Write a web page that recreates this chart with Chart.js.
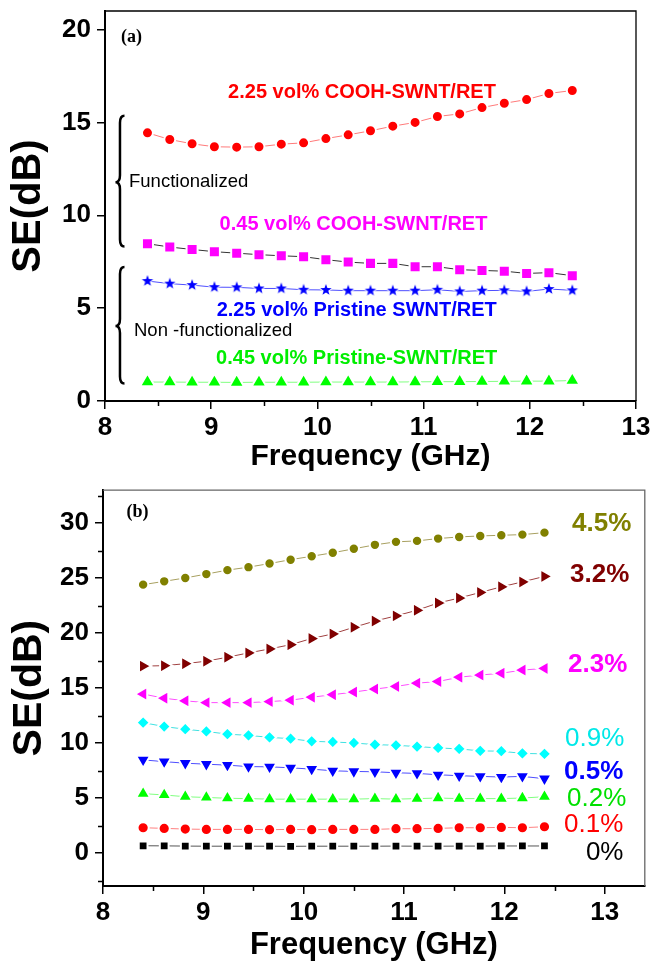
<!DOCTYPE html>
<html lang="en">
<head>
<meta charset="UTF-8" />
<title>Shielding effectiveness vs frequency</title>
<script src="https://cdn.jsdelivr.net/npm/chart.js"></script>
<style>
  body { margin: 0; background: #fff; }
  #wrap { position: relative; width: 655px; height: 964px; }
  canvas { position: absolute; left: 0; }
  #chartA { top: 0; }
  #chartB { top: 480px; }
</style>
</head>
<body>
<div id="wrap">
  <canvas id="chartA" width="655" height="480"></canvas>
  <canvas id="chartB" width="655" height="484"></canvas>
</div>
<script>
// frequency points (GHz), same for both panels
const freq = [8.40, 8.61, 8.82, 9.03, 9.24, 9.45, 9.66, 9.87, 10.08, 10.29,
              10.50, 10.71, 10.92, 11.13, 11.34, 11.55, 11.76, 11.97, 12.18, 12.40];

// panel (a) - SE (dB)
const cooh225 = [14.44, 14.08, 13.85, 13.69, 13.67, 13.69, 13.83, 13.90, 14.13, 14.33,
                 14.55, 14.80, 15.00, 15.32, 15.46, 15.80, 16.03, 16.23, 16.56, 16.72];
const cooh045 = [8.47, 8.29, 8.16, 8.04, 7.96, 7.88, 7.82, 7.77, 7.61, 7.48,
                 7.41, 7.41, 7.23, 7.23, 7.07, 7.03, 6.99, 6.87, 6.91, 6.75];
const pristine225 = [6.46, 6.32, 6.24, 6.13, 6.12, 6.06, 6.06, 5.99, 5.98, 5.94,
                     5.94, 5.94, 5.94, 5.99, 5.90, 5.94, 5.96, 5.90, 6.03, 5.96];
const pristine045 = [1.02, 1.02, 1.01, 1.01, 1.00, 1.01, 1.01, 1.01, 1.02, 1.02,
                     1.02, 1.02, 1.03, 1.04, 1.04, 1.05, 1.06, 1.07, 1.07, 1.10];

// panel (b) - SE (dB) by loading
const pct45 = [24.41, 24.71, 25.02, 25.37, 25.73, 26.00, 26.33, 26.68, 26.99, 27.31,
               27.67, 28.03, 28.30, 28.39, 28.60, 28.75, 28.84, 28.90, 28.96, 29.14];
const pct32 = [17.00, 17.04, 17.22, 17.45, 17.81, 18.20, 18.56, 18.95, 19.51, 19.93,
               20.53, 21.10, 21.57, 22.08, 22.74, 23.19, 23.70, 24.21, 24.66, 25.16];
const pct23 = [14.46, 14.08, 13.84, 13.68, 13.68, 13.68, 13.77, 13.90, 14.17, 14.40,
               14.64, 14.91, 15.15, 15.45, 15.60, 15.99, 16.19, 16.35, 16.64, 16.79];
const pct09 = [11.86, 11.50, 11.26, 11.06, 10.81, 10.70, 10.52, 10.40, 10.16, 10.10,
               10.01, 9.86, 9.80, 9.68, 9.56, 9.47, 9.29, 9.26, 9.06, 9.02];
const pct05 = [8.47, 8.31, 8.17, 8.08, 7.99, 7.86, 7.84, 7.75, 7.63, 7.48,
               7.42, 7.39, 7.30, 7.24, 7.12, 7.03, 6.97, 6.91, 6.97, 6.76];
const pct02 = [5.40, 5.28, 5.12, 5.05, 4.98, 4.95, 4.90, 4.90, 4.90, 4.90,
               4.90, 4.95, 4.90, 4.95, 5.00, 4.95, 4.95, 4.95, 5.00, 5.12];
const pct01 = [2.30, 2.24, 2.18, 2.15, 2.15, 2.15, 2.12, 2.15, 2.12, 2.15,
               2.15, 2.15, 2.21, 2.21, 2.24, 2.30, 2.30, 2.33, 2.30, 2.39];
const pct0 = [0.66, 0.65, 0.63, 0.62, 0.62, 0.62, 0.62, 0.61, 0.62, 0.62,
              0.62, 0.62, 0.63, 0.62, 0.62, 0.63, 0.63, 0.64, 0.64, 0.64];

// minor tick values
const minorX = [8.5, 9.5, 10.5, 11.5, 12.5];
const minorYB = [-2.5, 2.5, 7.5, 12.5, 17.5, 22.5, 27.5, 32.5];

Chart.defaults.font.family = "'Liberation Sans', Arial, sans-serif";
Chart.defaults.color = '#000';

const pts = ys => freq.map((f, i) => ({ x: f, y: ys[i] }));

function series(ys, color, lineColor, style, r, rot) {
  return {
    data: pts(ys),
    borderColor: lineColor,
    borderWidth: 1,
    backgroundColor: color,
    pointBackgroundColor: color,
    pointBorderColor: '#fff',
    pointBorderWidth: 2,
    pointStyle: style,
    pointRadius: r + 1,
    pointRotation: rot || 0,
    tension: 0,
    fill: false
  };
}

// filled 5-point star marker (Chart.js 'star' is an asterisk)
function makeStar(color) {
  const c = document.createElement('canvas');
  c.width = c.height = 16;
  const g = c.getContext('2d');
  g.beginPath();
  for (let i = 0; i < 10; i++) {
    const rr = i % 2 ? 2.4 : 6;
    const a = -Math.PI / 2 + i * Math.PI / 5;
    g.lineTo(8 + rr * Math.cos(a), 8 + rr * Math.sin(a));
  }
  g.closePath();
  g.lineWidth = 2; g.strokeStyle = '#fff'; g.stroke();
  g.fillStyle = color; g.fill();
  return c;
}

// frame, minor ticks, text labels and braces
const overlay = {
  id: 'overlay',
  afterDraw(chart, args, o) {
    const { ctx, chartArea: a, scales: { x, y } } = chart;
    ctx.save();
    ctx.strokeStyle = o.frameColor;
    ctx.lineWidth = 1.3;
    ctx.beginPath();
    ctx.moveTo(a.left, a.top); ctx.lineTo(a.right, a.top); ctx.lineTo(a.right, a.bottom);
    ctx.stroke();

    ctx.strokeStyle = '#000';
    ctx.lineWidth = 1.5;
    ctx.beginPath();
    (o.minorX || []).forEach(v => {
      const px = Math.round(x.getPixelForValue(v)) + 0.5;
      ctx.moveTo(px, a.bottom); ctx.lineTo(px, a.bottom + 5);
    });
    (o.minorY || []).forEach(v => {
      const py = Math.round(y.getPixelForValue(v)) + 0.5;
      ctx.moveTo(a.left, py); ctx.lineTo(a.left - 5, py);
    });
    ctx.stroke();

    ctx.textBaseline = 'middle';
    (o.texts || []).forEach(t => {
      ctx.font = t.font;
      ctx.fillStyle = t.color;
      ctx.textAlign = t.align || 'center';
      ctx.fillText(t.text, x.getPixelForValue(t.x), y.getPixelForValue(t.y));
    });

    ctx.lineWidth = 2.5;
    ctx.strokeStyle = '#000';
    (o.braces || []).forEach(b => {
      const xb = x.getPixelForValue(b.x);
      const top = y.getPixelForValue(b.top), bot = y.getPixelForValue(b.bottom), mid = y.getPixelForValue(b.mid);
      const w = 4.5, r = 7;
      ctx.beginPath();
      ctx.moveTo(xb + w, top);
      ctx.quadraticCurveTo(xb, top, xb, top + r);
      ctx.lineTo(xb, mid - r);
      ctx.quadraticCurveTo(xb, mid, xb - w, mid);
      ctx.quadraticCurveTo(xb, mid, xb, mid + r);
      ctx.lineTo(xb, bot - r);
      ctx.quadraticCurveTo(xb, bot, xb + w, bot);
      ctx.stroke();
    });
    ctx.restore();
  }
};

function axes(cfg) {
  const tickFont = { size: 26, weight: 'bold' };
  return {
    x: {
      type: 'linear', min: cfg.xMin, max: cfg.xMax,
      afterFit: s => { s.height = cfg.xHeight; s.paddingLeft = 0; s.paddingRight = 0; },
      ticks: { stepSize: 1, includeBounds: false, font: tickFont, color: '#000', padding: 3 },
      grid: { drawOnChartArea: false, tickLength: 8, color: '#000', lineWidth: 1.5 },
      border: { color: '#000', width: 2 },
      title: { display: true, text: 'Frequency (GHz)', color: '#000',
               font: { size: cfg.xTitleSize, weight: 'bold', lineHeight: 1 },
               padding: { top: 0, bottom: cfg.xTitlePad } }
    },
    y: {
      type: 'linear', min: cfg.yMin, max: cfg.yMax,
      afterFit: s => { s.width = cfg.yWidth; s.paddingTop = 0; s.paddingBottom = 0; },
      ticks: { stepSize: 5, includeBounds: false, font: tickFont, color: '#000', padding: 6 },
      grid: { drawOnChartArea: false, tickLength: 8, color: '#000', lineWidth: 1.5 },
      border: { color: '#000', width: 2 },
      title: { display: true, text: 'SE(dB)', color: '#000',
               font: { size: cfg.yTitleSize, weight: 'bold', lineHeight: 1 },
               padding: { top: 9, bottom: 0 } }
    }
  };
}

const boldA = "bold 20px 'Liberation Sans', Arial, sans-serif";
const plainA = "18.5px 'Liberation Sans', Arial, sans-serif";
const panelFont = "bold 18px 'Liberation Serif', 'Times New Roman', serif";

new Chart(document.getElementById('chartA'), {
  type: 'line',
  data: {
    datasets: [
      series(cooh225, '#ff0000', '#ff7a7a', 'circle', 4.5),
      series(cooh045, '#ff00ff', '#333333', 'rect', 6.8),
      Object.assign(series(pristine225, '#0000ff', '#4d4dff', 'circle', 5), { pointStyle: makeStar('#0000ff') }),
      series(pristine045, '#00ff00', '#80ff80', 'triangle', 7.6)
    ]
  },
  options: {
    responsive: false, animation: false, events: [],
    layout: { padding: { top: 11, right: 19, left: 0, bottom: 0 } },
    scales: axes({ xMin: 8, xMax: 13, yMin: 0, yMax: 21, xHeight: 79, yWidth: 105,
                   xTitleSize: 30, xTitlePad: 8, yTitleSize: 40 }),
    plugins: {
      legend: { display: false }, tooltip: { enabled: false },
      overlay: {
        frameColor: '#000',
        minorX: minorX,
        texts: [
          { text: '(a)', x: 8.15, y: 19.6, font: panelFont, color: '#000', align: 'left' },
          { text: '2.25 vol% COOH-SWNT/RET', x: 10.42, y: 16.63, font: boldA, color: '#ff0000' },
          { text: 'Functionalized', x: 8.226, y: 11.78, font: plainA, color: '#000', align: 'left' },
          { text: '0.45 vol% COOH-SWNT/RET', x: 10.34, y: 9.51, font: boldA, color: '#ff00ff' },
          { text: '2.25 vol% Pristine SWNT/RET', x: 10.37, y: 4.88, font: boldA, color: '#0000ff' },
          { text: 'Non -functionalized', x: 8.273, y: 3.80, font: plainA, color: '#000', align: 'left' },
          { text: '0.45 vol% Pristine-SWNT/RET', x: 10.37, y: 2.28, font: boldA, color: '#00ee00' }
        ],
        braces: [
          { x: 8.141, top: 15.36, bottom: 8.32, mid: 11.78 },
          { x: 8.141, top: 7.21, bottom: 0.94, mid: 4.04 }
        ]
      }
    }
  },
  plugins: [overlay]
});

const bigB = "bold 26px 'Liberation Sans', Arial, sans-serif";
const regB = "26px 'Liberation Sans', Arial, sans-serif";

new Chart(document.getElementById('chartB'), {
  type: 'line',
  data: {
    datasets: [
      series(pct45, '#808000', '#a8a060', 'circle', 4.2),
      series(pct32, '#800000', '#a04040', 'triangle', 7.2, 90),
      series(pct23, '#ff00ff', '#ff4dff', 'triangle', 7.2, -90),
      series(pct09, '#00ffff', '#40e0e0', 'rectRot', 5.6),
      series(pct05, '#0000ff', '#4d4dff', 'triangle', 7.2, 180),
      series(pct02, '#00ff00', '#80ff80', 'triangle', 7.2),
      series(pct01, '#ff0000', '#ff8080', 'circle', 4.6),
      series(pct0, '#000000', '#555555', 'rect', 5.2)
    ]
  },
  options: {
    responsive: false, animation: false, events: [],
    layout: { padding: { top: 5, right: 7, left: 0, bottom: 0 } },
    scales: axes({ xMin: 8, xMax: 13.4, yMin: -3, yMax: 33, xHeight: 78, yWidth: 103,
                   xTitleSize: 31, xTitlePad: 3, yTitleSize: 41 }),
    plugins: {
      legend: { display: false }, tooltip: { enabled: false },
      overlay: {
        frameColor: '#666',
        minorX: minorX,
        minorY: minorYB,
        texts: [
          { text: '(b)', x: 8.235, y: 30.96, font: panelFont, color: '#000', align: 'left' },
          { text: '4.5%', x: 12.97, y: 29.97, font: bigB, color: '#808000' },
          { text: '3.2%', x: 12.95, y: 25.31, font: bigB, color: '#800000' },
          { text: '2.3%', x: 12.93, y: 17.09, font: bigB, color: '#ff00ff' },
          { text: '0.9%', x: 12.90, y: 10.37, font: regB, color: '#00e8e8' },
          { text: '0.5%', x: 12.89, y: 7.38, font: bigB, color: '#0000ff' },
          { text: '0.2%', x: 12.92, y: 4.93, font: regB, color: '#00e000' },
          { text: '0.1%', x: 12.89, y: 2.60, font: regB, color: '#ff0000' },
          { text: '0%', x: 13.00, y: 0.05, font: regB, color: '#000' }
        ]
      }
    }
  },
  plugins: [overlay]
});
</script>
</body>
</html>
